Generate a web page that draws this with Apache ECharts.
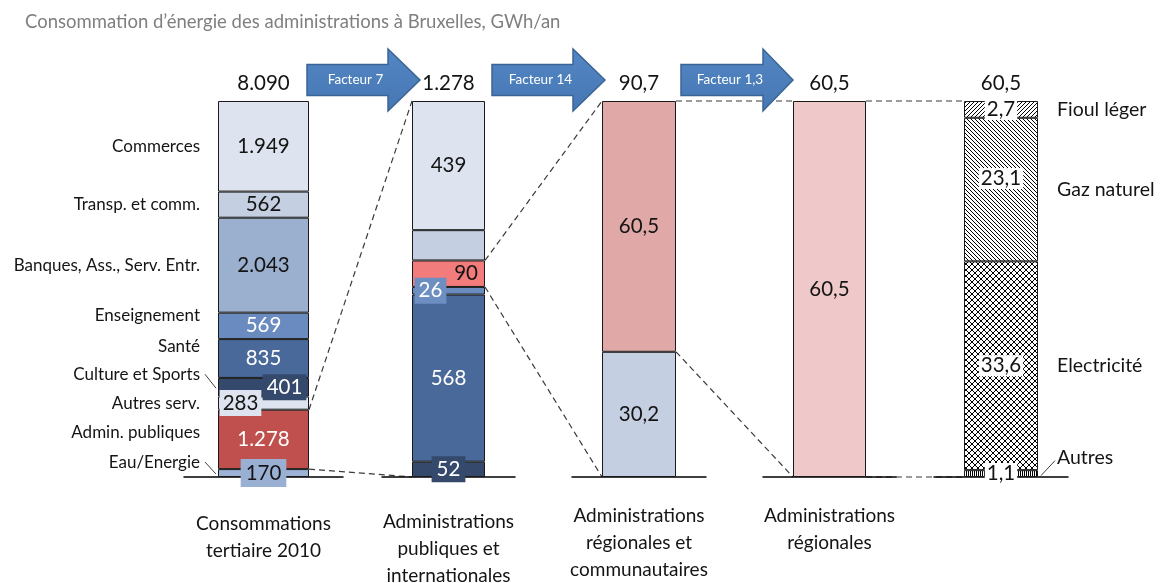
<!DOCTYPE html>
<html>
<head>
<meta charset="utf-8">
<script src="https://cdn.jsdelivr.net/npm/echarts@6/dist/echarts.min.js"></script>
<style>
  html, body { margin: 0; padding: 0; background: #fff; }
  #chart { width: 1168px; height: 583px; }
</style>
</head>
<body>
<div id="chart"></div>
<script>
// ---- Data (GWh/an) ----
const titleText = 'Consommation d’énergie des administrations à Bruxelles, GWh/an';
const barCategories = [
  'Consommations\ntertiaire 2010',
  'Administrations\npubliques et\ninternationales',
  'Administrations\nrégionales et\ncommunautaires',
  'Administrations\nrégionales',
  ''
];
// Tertiary sector 2010, bottom to top
const tertiaireNames = ['Eau/Energie', 'Admin. publiques', 'Autres serv.', 'Culture et Sports', 'Santé',
  'Enseignement', 'Banques, Ass., Serv. Entr.', 'Transp. et comm.', 'Commerces'];
const tertiaireValues = [170, 1278, 283, 401, 835, 569, 2043, 562, 1949];
// Public and international administrations, bottom to top
const adminValues = [52, 568, 26, 90, 103, 439];
// Regional and community administrations, bottom to top
const regCommValues = [30.2, 60.5];
// Regional administrations
const regValues = [60.5];
// Regional administrations by energy carrier, bottom to top
const vecteurNames = ['Autres', 'Electricité', 'Gaz naturel', 'Fioul léger'];
const vecteurValues = [1.1, 33.6, 23.1, 2.7];
const facteurLabels = ['Facteur 7', 'Facteur 14', 'Facteur 1,3'];

// ---- Presentation ----
const FONT = 'Lato, "Liberation Sans", sans-serif';
const INK = '#141414';
const VALUE_SIZE = 20.5;
const TOP = 101, BASE = 477;
const barLayout = [
  { left: 218, width: 91, pad: 34, catMargin: 33, decimals: 0 },
  { left: 412, width: 73, pad: 30, catMargin: 31, decimals: 0 },
  { left: 602, width: 74, pad: 30, catMargin: 25, decimals: 1 },
  { left: 793, width: 73, pad: 30, catMargin: 25, decimals: 1 },
  { left: 964, width: 74, pad: 30, catMargin: 25, decimals: 1 }
];

function fmt(v, decimals) {
  if (decimals === 0) return String(Math.round(v)).replace(/\B(?=(\d{3})+(?!\d))/g, '.');
  return v.toFixed(decimals).replace('.', ',');
}

// Hatch patterns for the energy carriers
function pattern(size, draw) {
  const c = document.createElement('canvas');
  c.width = c.height = size;
  const ctx = c.getContext('2d');
  ctx.fillStyle = '#fff';
  ctx.fillRect(0, 0, size, size);
  ctx.strokeStyle = '#000';
  ctx.lineWidth = 1;
  ctx.beginPath();
  draw(ctx, size);
  ctx.stroke();
  return { image: c, repeat: 'repeat' };
}
function slash(ctx, s) {
  ctx.moveTo(0, s); ctx.lineTo(s, 0);
  ctx.moveTo(-1, 1); ctx.lineTo(1, -1);
  ctx.moveTo(s - 1, s + 1); ctx.lineTo(s + 1, s - 1);
}
function backslash(ctx, s) {
  ctx.moveTo(0, 0); ctx.lineTo(s, s);
  ctx.moveTo(-1, s - 1); ctx.lineTo(1, s + 1);
  ctx.moveTo(s - 1, -1); ctx.lineTo(s + 1, 1);
}
const patAutres = pattern(2, (ctx) => { ctx.moveTo(0.5, 0); ctx.lineTo(0.5, 2); });
const patElec = pattern(6, (ctx, s) => { slash(ctx, s); backslash(ctx, s); });
const patGaz = pattern(4, backslash);
const patFioul = pattern(4, slash);

const white = { color: '#fff' };
const ink = { color: INK };
const barStyles = [
  {
    colors: ['#9DB3D5', '#C0504D', '#DDE4EF', '#35496C', '#4A699B', '#6A8BBF', '#9BAFCE', '#C4CFE1', '#DDE4EF'],
    labels: [
      { color: INK, backgroundColor: '#9AB0D3', padding: [4, 5, 3, 5] },
      white,
      { color: INK, backgroundColor: '#DDE4EF', padding: [3, 3, 2, 3], offset: [-23, 0] },
      { color: '#fff', backgroundColor: '#35496C', padding: [3, 4, 2, 4], offset: [21, 0] },
      white, white, ink, ink, ink
    ]
  },
  {
    colors: ['#35496C', '#4A699B', '#6A8BBF', '#F27B7B', '#C4CFE1', '#DDE4EF'],
    labels: [
      { color: '#fff', backgroundColor: '#35496C', padding: [3, 5, 2, 5] },
      white,
      { color: '#fff', backgroundColor: '#6D8EC1', padding: [3, 4, 2, 4], offset: [-18, 0] },
      { color: INK, position: 'insideRight', distance: 7 },
      { show: false },
      ink
    ]
  },
  { colors: ['#C4CFE1', '#E0A8A7'], labels: [ink, ink] },
  { colors: ['#EFC9C9'], labels: [ink] },
  {
    colors: [patAutres, patElec, patGaz, patFioul],
    labels: [
      { color: INK, backgroundColor: '#fff', padding: [0, 2] },
      { color: INK, backgroundColor: '#fff', padding: [0, 2] },
      { color: INK, backgroundColor: '#fff', padding: [0, 2], offset: [0, -11] },
      { color: INK, backgroundColor: '#fff', padding: [0, 2] }
    ]
  }
];
const barValues = [tertiaireValues, adminValues, regCommValues, regValues, vecteurValues];
const totals = barValues.map(vals => vals.reduce((a, b) => a + b, 0));

// ---- Grids, axes, stacked series ----
const grid = [], xAxis = [], yAxis = [], series = [];
barLayout.forEach((b, g) => {
  grid.push({
    left: b.left - b.pad, width: b.width + 2 * b.pad, top: TOP, height: BASE - TOP,
    containLabel: false, outerBoundsMode: 'none'
  });
  xAxis.push({
    gridIndex: g, type: 'category', data: [barCategories[g]],
    axisTick: { show: false },
    axisLine: { lineStyle: { color: '#000', width: 1.5 } },
    axisLabel: {
      interval: 0, margin: b.catMargin, fontSize: 19, lineHeight: 27, color: INK,
      fontFamily: FONT, verticalAlign: 'top', hideOverlap: false
    }
  });
  yAxis.push({ gridIndex: g, type: 'value', min: 0, max: totals[g], show: false });
  barValues[g].forEach((v, i) => {
    const lab = barStyles[g].labels[i];
    series.push({
      type: 'bar', xAxisIndex: g, yAxisIndex: g, stack: 'bar' + g,
      barWidth: b.width, data: [v], animation: false,
      itemStyle: { color: barStyles[g].colors[i], borderColor: '#1a1a1a', borderWidth: 1 },
      label: Object.assign({
        show: true, position: 'inside', fontFamily: FONT, fontSize: VALUE_SIZE,
        formatter: () => fmt(v, b.decimals)
      }, lab)
    });
  });
});

const chart = echarts.init(document.getElementById('chart'), null, { renderer: 'canvas' });
chart.setOption({ animation: false, grid, xAxis, yAxis, series });

// ---- Overlay: titles, totals, names, connectors, arrows ----
function cum(g, n) { return barValues[g].slice(0, n).reduce((a, b) => a + b, 0); }
function py(g, v) { return chart.convertToPixel({ gridIndex: g }, [0, v])[1]; }
function px(g) { return chart.convertToPixel({ gridIndex: g }, [0, 0])[0]; }
function segMid(g, i) { return py(g, cum(g, i) + barValues[g][i] / 2); }
const leftEdge = g => px(g) - barLayout[g].width / 2;
const rightEdge = g => px(g) + barLayout[g].width / 2;

const graphics = [];
const textStyle = (extra) => Object.assign({ fontFamily: FONT, fill: INK }, extra);

graphics.push({
  type: 'text', x: 25, y: 22,
  style: textStyle({ text: titleText, fontSize: 18.5, fill: '#7f7f7f', verticalAlign: 'middle' })
});

// Totals above each bar
totals.forEach((t, g) => {
  graphics.push({
    type: 'text', x: px(g), y: py(g, t) - 18,
    style: textStyle({ text: fmt(t, barLayout[g].decimals), fontSize: VALUE_SIZE, align: 'center', verticalAlign: 'middle' })
  });
});

// Sector names left of the first bar
const nameOffsets = [-11, -7, 0, -13, -12, -10, 0, 0, 0];
const nameLeaders = [true, false, false, true, false, false, false, false, false];
tertiaireNames.forEach((n, i) => {
  const y = segMid(0, i) + nameOffsets[i];
  graphics.push({
    type: 'text', x: 200, y,
    style: textStyle({ text: n, fontSize: 17, align: 'right', verticalAlign: 'middle' })
  });
  if (nameLeaders[i]) {
    graphics.push({
      type: 'line', shape: { x1: 205, y1: y, x2: leftEdge(0) - 2, y2: segMid(0, i) + 1 },
      style: { stroke: '#404040', lineWidth: 1 }
    });
  }
});

// Carrier names right of the last bar
const carrierOffsets = [-16, 0, 0, 0];
vecteurNames.forEach((n, i) => {
  const y = segMid(4, i) + carrierOffsets[i];
  graphics.push({
    type: 'text', x: 1057, y,
    style: textStyle({ text: n, fontSize: 19.5, align: 'left', verticalAlign: 'middle' })
  });
  if (i === 0) {
    graphics.push({
      type: 'line', shape: { x1: rightEdge(4) + 3, y1: segMid(4, 0) + 2, x2: 1055, y2: y + 3 },
      style: { stroke: '#404040', lineWidth: 1 }
    });
  }
});

// Dashed connectors between bars: [fromBar, cumulative segments, toBar, cumulative segments]
const connectors = [
  [0, 2, 1, 6], [0, 1, 1, 0],
  [1, 4, 2, 2], [1, 3, 2, 0],
  [2, 2, 3, 1], [2, 1, 3, 0],
  [3, 1, 4, 4], [3, 0, 4, 0]
];
connectors.forEach(([a, na, b, nb]) => {
  graphics.push({
    type: 'line', z: -1,
    shape: { x1: rightEdge(a), y1: py(a, cum(a, na)), x2: leftEdge(b), y2: py(b, cum(b, nb)) },
    style: { stroke: '#3a3a3a', lineWidth: 1.2, lineDash: [6, 4] }
  });
});

// Block arrows carrying the reduction factors
const arrowSpots = [[307, 388, 420], [492, 573, 605], [681, 763, 793]];
facteurLabels.forEach((label, k) => {
  const [x0, xh, xt] = arrowSpots[k];
  const yc = 80, bh = 15.5, hh = 31;
  graphics.push({
    type: 'polygon',
    shape: { points: [[x0, yc - bh], [xh, yc - bh], [xh, yc - hh], [xt, yc], [xh, yc + hh], [xh, yc + bh], [x0, yc + bh]] },
    style: {
      fill: new echarts.graphic.LinearGradient(0, 0, 0, 1, [
        { offset: 0, color: '#5386C4' }, { offset: 1, color: '#4677B3' }
      ]),
      stroke: '#3A6494', lineWidth: 1.5
    }
  });
  graphics.push({
    type: 'text', x: (x0 + xh) / 2 + 8, y: yc,
    style: textStyle({ text: label, fontSize: 13.5, fill: '#fff', align: 'center', verticalAlign: 'middle' })
  });
});

chart.setOption({ graphic: graphics });
</script>
</body>
</html>
